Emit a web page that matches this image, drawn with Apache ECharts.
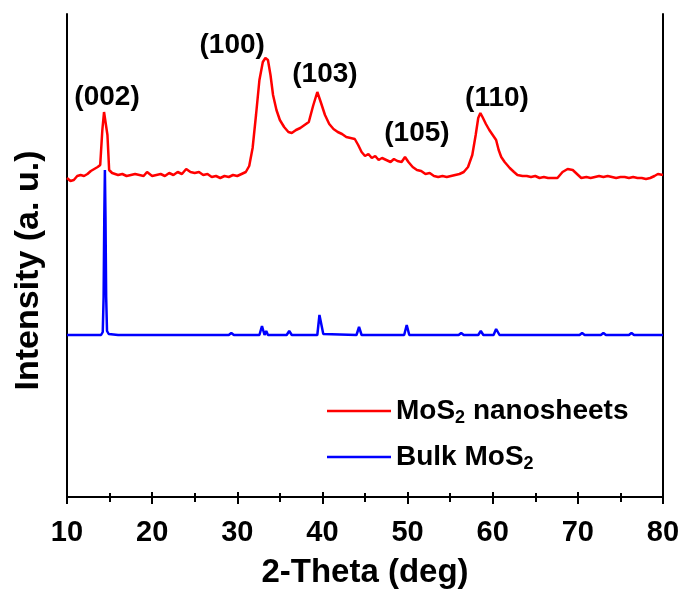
<!DOCTYPE html>
<html>
<head>
<meta charset="utf-8">
<script src="https://cdn.jsdelivr.net/npm/echarts@6/dist/echarts.min.js"></script>
<style>
  html, body { margin: 0; padding: 0; background: #fff; }
  #chart { width: 684px; height: 590px; }
</style>
</head>
<body>
<div id="chart"></div>
<script>
// XRD patterns, intensity in arbitrary units
const redTheta = [10, 10.4, 10.8, 11.2, 11.6, 12, 12.4, 12.8, 13.2, 13.6, 13.9, 14.15, 14.35, 14.55, 14.75, 14.95, 15.3, 16, 16.5, 17, 17.5, 18, 18.5, 19, 19.4, 20, 20.5, 21, 21.5, 22, 22.5, 23, 23.5, 24, 24.5, 25, 25.5, 26, 26.5, 27, 27.5, 28, 28.5, 29, 29.5, 30, 30.5, 31, 31.4, 31.8, 32.2, 32.6, 33.0, 33.3, 33.6, 33.9, 34.2, 34.6, 35.0, 35.5, 36.0, 36.4, 36.9, 37.4, 37.9, 38.4, 38.9, 39.4, 39.8, 40.3, 40.8, 41.3, 41.8, 42.3, 42.8, 43.3, 43.8, 44.2, 44.6, 45.0, 45.4, 45.8, 46.2, 46.6, 47.0, 47.5, 48.0, 48.4, 48.8, 49.3, 49.7, 50.1, 50.6, 51.1, 51.6, 52.1, 52.6, 53.1, 53.6, 54.1, 54.6, 55.1, 55.6, 56.1, 56.6, 57.1, 57.6, 58.0, 58.3, 58.55, 58.8, 59.2, 59.6, 60.0, 60.4, 60.7, 61.0, 61.4, 62.0, 62.5, 62.9, 63.5, 64, 64.5, 65, 65.5, 66, 66.5, 67, 67.6, 68.2, 68.8, 69.4, 69.9, 70.4, 71, 71.5, 72, 72.5, 73, 73.5, 74, 74.5, 75, 75.5, 76, 76.5, 77, 77.5, 78, 78.5, 79, 79.4, 80];
const redInt = [319, 316, 317, 321, 322, 321, 323, 326, 328, 330, 332, 367, 385, 384, 362, 327, 324, 322, 323, 321, 322, 323, 322, 321, 325, 321, 322, 323, 321, 324, 322, 325, 323, 328, 325, 324, 325, 322, 323, 320, 321, 319, 321, 320, 322, 321, 323, 325, 331, 349, 382, 417, 435, 439, 437, 422, 402, 387, 377, 370, 365, 364, 367, 369, 372, 375, 391, 405, 395, 382, 373, 368, 365, 363, 360, 359, 358, 352, 345, 341, 343, 339, 341, 337, 339, 337, 335, 338, 336, 335, 340, 335, 330, 327, 326, 323, 324, 321, 320, 321, 320, 321, 322, 323, 325, 330, 342, 362, 379, 384, 380, 373, 367, 362, 357, 347, 340, 335, 329, 325, 322, 321, 321, 320, 321, 319, 320, 319, 319, 319, 325, 328, 327, 323, 319, 320, 319, 320, 321, 320, 321, 320, 319, 320, 320, 319, 320, 319, 319, 318, 319, 321, 323, 322];

const blueTheta = [10, 12, 14.0, 14.2, 14.3, 14.38, 14.45, 14.52, 14.6, 14.7, 14.9, 16, 20, 25, 29.0, 29.3, 29.6, 32.6, 32.9, 33.2, 33.4, 33.6, 33.8, 35.8, 36.1, 36.4, 39.4, 39.65, 39.85, 40.1, 44.0, 44.3, 44.6, 49.6, 49.9, 50.2, 56.0, 56.3, 56.6, 58.3, 58.6, 58.9, 60.1, 60.4, 60.8, 65, 70.2, 70.5, 70.8, 72.7, 73.0, 73.3, 76.0, 76.3, 76.6, 80];
const blueInt = [162, 162, 162, 165, 200, 280, 327, 280, 200, 166, 163, 162, 162, 162, 162, 164, 162, 162, 171, 162, 166, 162, 162, 162, 166, 162, 162, 182, 183, 163, 162, 170, 162, 162, 172, 162, 162, 164, 162, 162, 166, 162, 162, 168, 162, 162, 162, 164, 162, 162, 164, 162, 162, 164, 162, 162];

const peakLabels = ['(002)', '(100)', '(103)', '(105)', '(110)'];
const peakTheta = [14.7, 29.4, 40.3, 51.1, 60.5];
const peakInt = [400, 452, 423, 364, 399];

const xTicks = [10, 20, 30, 40, 50, 60, 70, 80];

const seriesNames = ['MoS2 nanosheets', 'Bulk MoS2'];

const zip = (a, b) => a.map((v, i) => [v, b[i]]);
const font = '"Liberation Sans", Arial, sans-serif';

const chart = echarts.init(document.getElementById('chart'), null, { renderer: 'canvas' });

const legendRich = {
  n: { fontFamily: font, fontWeight: 'bold', fontSize: 28, color: '#000' },
  s: { fontFamily: font, fontWeight: 'bold', fontSize: 18, color: '#000', padding: [15, 0, 0, 0] }
};
const legendFmt = name => name === 'Bulk MoS2'
  ? '{n|Bulk MoS}{s|2}'
  : '{n|MoS}{s|2}{n| nanosheets}';

const legendBase = {
  left: 322,
  icon: 'rect',
  itemWidth: 64,
  itemHeight: 2.5,
  itemGap: 10,
  formatter: legendFmt,
  textStyle: { rich: legendRich },
  selectedMode: false
};

chart.setOption({
  animation: false,
  backgroundColor: '#fff',
  grid: { left: 67, right: 21, top: 14, bottom: 93, containLabel: false, outerBoundsMode: 'none' },
  legend: [
    Object.assign({}, legendBase, { top: 392, data: [seriesNames[0]] }),
    Object.assign({}, legendBase, { top: 438, data: [seriesNames[1]] })
  ],
  xAxis: [{
    type: 'value',
    min: 10, max: 80, interval: 10,
    name: '2-Theta (deg)',
    nameLocation: 'middle',
    nameGap: 59,
    nameTextStyle: { fontFamily: font, fontWeight: 'bold', fontSize: 33, color: '#000' },
    axisLine: { show: true, lineStyle: { color: '#000', width: 2 } },
    axisTick: { show: true, inside: false, length: 7, lineStyle: { color: '#000', width: 2 } },
    minorTick: { show: true, splitNumber: 2, length: 5, lineStyle: { color: '#000', width: 2 } },
    splitLine: { show: false },
    axisLabel: {
      margin: 21,
      fontFamily: font, fontWeight: 'bold', fontSize: 29, color: '#000',
      formatter: v => xTicks.includes(v) ? String(v) : ''
    }
  }, {
    type: 'value',
    position: 'top',
    min: 10, max: 80, interval: 10,
    axisLine: { show: true, lineStyle: { color: '#000', width: 2 } },
    axisTick: { show: true, inside: false, length: 5, lineStyle: { color: '#000', width: 2 } },
    minorTick: { show: true, splitNumber: 2, length: 4, lineStyle: { color: '#000', width: 2 } },
    splitLine: { show: false },
    axisLabel: { show: false }
  }],
  yAxis: [{
    type: 'value',
    min: 0, max: 483,
    name: 'Intensity (a. u.)',
    nameLocation: 'middle',
    nameGap: 21,
    nameRotate: 90,
    nameTextStyle: {
      fontFamily: font, fontWeight: 'bold', fontSize: 34, color: '#000',
      padding: [0, 30, 0, 0]
    },
    axisLine: { show: true, lineStyle: { color: '#000', width: 2 } },
    axisTick: { show: false },
    axisLabel: { show: false },
    splitLine: { show: false }
  }, {
    type: 'value',
    position: 'right',
    min: 0, max: 483,
    axisLine: { show: true, lineStyle: { color: '#000', width: 2 } },
    axisTick: { show: false },
    axisLabel: { show: false },
    splitLine: { show: false }
  }],
  series: [{
    name: seriesNames[0],
    type: 'line',
    data: zip(redTheta, redInt),
    symbol: 'none',
    lineStyle: { color: '#ff0000', width: 2.5 },
    itemStyle: { color: '#ff0000' },
    z: 3
  }, {
    name: seriesNames[1],
    type: 'line',
    data: zip(blueTheta, blueInt),
    symbol: 'none',
    lineStyle: { color: '#0000ff', width: 2.5 },
    itemStyle: { color: '#0000ff' },
    z: 2
  }, {
    name: 'peaks',
    type: 'scatter',
    data: peakLabels.map((l, i) => ({ name: l, value: [peakTheta[i], peakInt[i]] })),
    symbolSize: 0,
    silent: true,
    itemStyle: { opacity: 1 },
    label: {
      show: true,
      position: 'inside',
      formatter: p => p.name,
      fontFamily: font, fontWeight: 'bold', fontSize: 28, color: '#000'
    },
    z: 4
  }]
});
</script>
</body>
</html>
